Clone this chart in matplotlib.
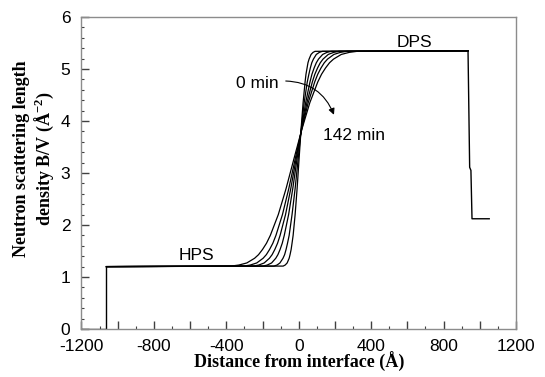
import numpy as np
from matplotlib import pyplot as plt
from matplotlib.ticker import MultipleLocator, FuncFormatter

plt.rcParams['font.family'] = ['Liberation Sans', 'DejaVu Sans']

# outer steps of the model profile (same for all times)
x_left  = [-1200, -1062, -1062]
y_left  = [0.0, 0.0, 1.2]
x_right = [935, 944, 951, 957, 1052]
y_right = [5.35, 3.11, 3.05, 2.12, 2.12]

# interface region (0 min ... 142 min)
y_int = [1.21, 1.23, 1.27, 1.36, 1.43, 1.53, 1.65, 1.80, 2.20, 2.70, 3.28,
         3.85, 4.35, 4.75, 4.90, 5.02, 5.12, 5.19, 5.28, 5.32, 5.34]
x_int = [
    [-86, -75, -64, -53, -48, -42, -37, -31, -20, -9, 2, 13, 24, 35, 40, 46, 51, 57, 68, 79, 90],
    [-137, -120, -104, -87, -78, -70, -62, -53, -37, -20, -3, 14, 30, 47, 56, 64, 72, 81, 97, 114, 131],
    [-197, -174, -150, -127, -115, -103, -91, -80, -56, -33, -9, 15, 38, 62, 73, 85, 97, 109, 132, 156, 179],
    [-250, -221, -191, -162, -147, -132, -117, -103, -73, -44, -14, 16, 45, 75, 89, 104, 119, 134, 163, 193, 222],
    [-303, -268, -232, -197, -179, -161, -143, -126, -90, -55, -19, 17, 52, 88, 105, 123, 141, 159, 194, 230, 265],
    [-374, -331, -287, -244, -222, -200, -178, -157, -113, -70, -26, 18, 61, 105, 126, 148, 170, 192, 235, 279, 322],
]
y_hps = 1.2
y_dps = 5.35

fig = plt.figure(figsize=(5.45, 3.77), dpi=100)
ax = fig.add_axes([0.1495, 0.1273, 0.7973, 0.8276])

ax.plot(x_left, y_left, color='k', lw=1.0)
ax.plot(x_right, y_right, color='k', lw=1.0)
for xs in x_int:
    xx = [x_left[-1]] + xs + [x_right[0]]
    yy = [y_hps] + y_int + [y_dps]
    ax.plot(xx, yy, color='k', lw=0.9)

ax.set_xlim(-1200, 1200)
ax.set_ylim(0, 6)

ax.xaxis.set_major_locator(MultipleLocator(200))
ax.xaxis.set_minor_locator(MultipleLocator(100))
ax.xaxis.set_major_formatter(FuncFormatter(lambda v, p: '%d' % v if int(round(v)) % 400 == 0 else ''))
ax.yaxis.set_major_locator(MultipleLocator(1))
ax.yaxis.set_minor_locator(MultipleLocator(0.2))

ax.tick_params(which='both', direction='in', top=False, right=False, color='0.25',
               labelsize=12.5)
ax.tick_params(which='major', length=5.5, width=1.0)
ax.tick_params(which='minor', length=2.5, width=0.8)
ax.tick_params(axis='x', pad=7)
ax.tick_params(axis='y', pad=8)
for s in ax.spines.values():
    s.set_color('0.55')
    s.set_linewidth(1.0)

ax.set_xlabel('Distance from interface (Å)', family=['Liberation Serif', 'DejaVu Serif'],
              fontweight='bold', fontsize=13, labelpad=-1)
fig.text(0.063, 0.58, 'Neutron scattering length\ndensity B/V (Å$^{\\mathregular{-2}}$)',
         family=['Liberation Serif', 'DejaVu Serif'], fontweight='bold', fontsize=13,
         rotation=90, ha='center', va='center', multialignment='center')

ax.text(-567, 1.27, 'HPS', fontsize=12.5, ha='center', va='bottom')
ax.text(637, 5.37, 'DPS', fontsize=12.5, ha='center', va='bottom')
ax.text(-230, 4.73, '0 min', fontsize=12.5, ha='center', va='center')
ax.text(303, 3.73, '142 min', fontsize=12.5, ha='center', va='center')
ax.annotate('', xy=(200, 4.07), xytext=(-87, 4.77),
            arrowprops=dict(arrowstyle='-|>', color='k', lw=0.8, mutation_scale=9,
                            connectionstyle='arc3,rad=-0.35'))

plt.savefig('out.png', dpi=100)
